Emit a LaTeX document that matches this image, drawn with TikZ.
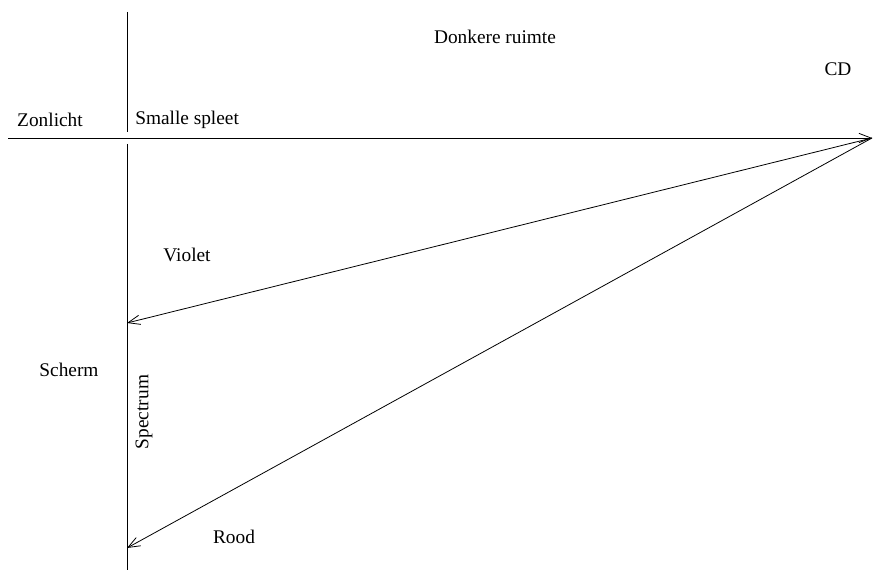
\documentclass[tikz,border=0pt]{standalone}
\usepackage{fontspec}
\setmainfont{Liberation Serif}
\usetikzlibrary{arrows.meta}

\begin{document}
\begin{tikzpicture}[x=0.75pt,y=-0.75pt,
	lbl/.style={inner sep=0pt,font=\fontsize{14.5}{17}\selectfont},
	ray/.style={-{Straight Barb[length=9pt,width=7pt]},line width=0.6pt},
	wall/.style={line width=0.6pt}]
	\useasboundingbox (0,0) rectangle (874,570);
	% ends of the lines
	\coordinate (zon) at (8,138);
	\coordinate (cd) at (872,138);
	\coordinate (spleettop) at (127,12);
	\coordinate (spleetbot) at (127,132);
	\coordinate (schermtop) at (127,144);
	\coordinate (schermbot) at (127,570);
	\coordinate (violetpt) at (127,323);
	\coordinate (roodpt) at (127,548);

	% labels
	\node(donker)[lbl] at (495,37){Donkere ruimte};
	\node(cdlbl)[lbl] at (838,69){CD};
	\node(zonlicht)[lbl] at (50,120){Zonlicht};
	\node(spleet)[lbl,anchor=west] at (135,120){Smalle spleet};
	\node(violet)[lbl] at (187,255){Violet};
	\node(scherm)[lbl] at (69,370){Scherm};
	\node(spectrum)[lbl,rotate=90] at (144,412){Spectrum};
	\node(rood)[lbl] at (234,537){Rood};

	\draw[wall] (spleettop) -- (spleetbot);
	\draw[wall] (schermtop) -- (schermbot);
	\draw[ray] (zon) -- (cd);
	\draw[ray] (cd) -- (violetpt);
	\draw[ray] (cd) -- (roodpt);
\end{tikzpicture}
\end{document}
